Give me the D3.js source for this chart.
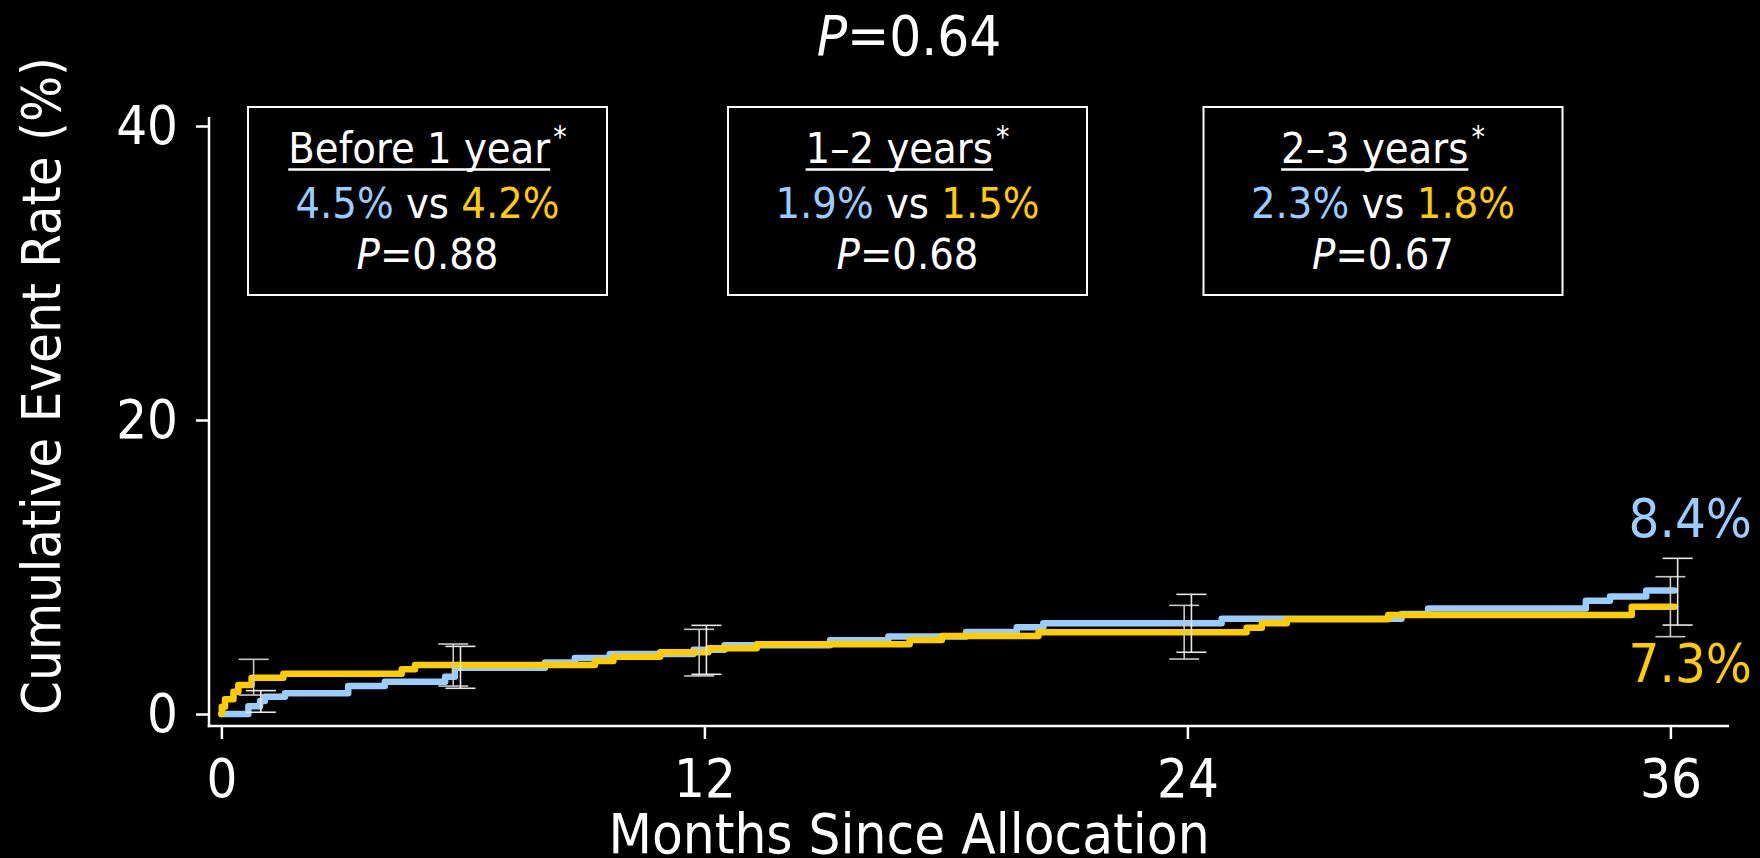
<!DOCTYPE html>
<html>
<head>
<meta charset="utf-8">
<script src="https://cdn.jsdelivr.net/npm/d3@7"></script>
<style>
  html, body { margin: 0; padding: 0; background: #000; }
  svg { display: block; }
  text { font-family: "DejaVu Sans Condensed", "DejaVu Sans", sans-serif; font-stretch: condensed; fill: #fff; }
</style>
</head>
<body>
<svg id="chart" width="1760" height="858"></svg>
<script>
// ---- data ----
// Kaplan-Meier style cumulative event curves: step start month and cumulative rate (%)
const blueMonths   = [0, 0.67, 0.96, 1.08, 1.58, 3.15, 4.06, 5.56, 5.8, 8.04, 8.78, 9.65, 11.73, 12.5, 15.12, 16.57, 18.5, 19.76, 20.42, 24.85, 29.32, 29.98, 33.9, 34.5, 35.4, 36.1];
const blueRates    = [0, 0.52, 0.88, 1.18, 1.41, 1.9, 2.2, 2.54, 3.15, 3.5, 3.81, 4.08, 4.37, 4.67, 5.01, 5.28, 5.58, 5.9, 6.17, 6.48, 6.8, 7.17, 7.7, 8.0, 8.4, 8.4];
const yellowMonths = [0, 0.01, 0.09, 0.3, 0.42, 0.75, 1.54, 4.48, 4.81, 9.28, 9.74, 10.9, 12.1, 13.3, 17.1, 17.9, 20.3, 25.47, 25.85, 26.47, 28.99, 35.04, 36.1];
const yellowRates  = [0, 0.5, 1.0, 1.52, 1.97, 2.47, 2.74, 3.04, 3.33, 3.6, 3.9, 4.2, 4.47, 4.74, 5.03, 5.3, 5.56, 5.87, 6.17, 6.44, 6.73, 7.3, 7.3];

// 95% confidence intervals at landmark times
const blueCiMonths   = [0.98, 5.94, 12.05, 24.1, 36.18];
const blueCiLow      = [0.12, 1.75, 2.7, 4.2, 6.05];
const blueCiHigh     = [1.59, 4.6, 6.03, 8.14, 10.59];
const yellowCiMonths = [0.8, 5.76, 11.87, 23.92, 36.0];
const yellowCiLow    = [1.29, 1.9, 2.59, 3.74, 5.26];
const yellowCiHigh   = [3.72, 4.76, 5.76, 7.39, 9.34];

// final rates labelled at the right end
const blueFinal = 8.4;
const yellowFinal = 7.3;

// landmark analysis panels
const periodNames  = ["Before 1 year", "1\u20132 years", "2\u20133 years"];
const periodBlue   = ["4.5%", "1.9%", "2.3%"];
const periodYellow = ["4.2%", "1.5%", "1.8%"];
const periodP      = ["0.88", "0.68", "0.67"];
const overallP     = "0.64";

// axes
const xTicks = [0, 12, 24, 36];
const yTicks = [0, 20, 40];
const xTitle = "Months Since Allocation";
const yTitle = "Cumulative Event Rate (%)";

// ---- layout ----
const BLUE = "#99CCFF";
const YELLOW = "#FFCC00";
const svg = d3.select("#chart");

const x = d3.scaleLinear().domain([0, 36]).range([221.4, 1670.4]);
const y = d3.scaleLinear().domain([0, 40]).range([714, 126]);

const axisX = 209;     // vertical axis position
const axisY = 726;     // horizontal axis position
const axisRight = 1729;

// axis lines
svg.append("line")
  .attr("x1", axisX).attr("x2", axisX)
  .attr("y1", y(40) - 9).attr("y2", axisY + 1.2)
  .attr("stroke", "#fff").attr("stroke-width", 2.5);
svg.append("line")
  .attr("x1", axisX - 1.2).attr("x2", axisRight)
  .attr("y1", axisY).attr("y2", axisY)
  .attr("stroke", "#fff").attr("stroke-width", 2.5);

// x axis
const gx = svg.append("g")
  .attr("transform", `translate(0,${axisY})`)
  .call(d3.axisBottom(x).tickValues(xTicks).tickSize(13).tickPadding(20).tickFormat(d3.format("d")));
gx.select(".domain").remove();
gx.selectAll(".tick line").attr("stroke", "#fff").attr("stroke-width", 2.5);
gx.selectAll(".tick text").attr("fill", "#fff").style("font-size", "54px");

// y axis
const gy = svg.append("g")
  .attr("transform", `translate(${axisX},0)`)
  .call(d3.axisLeft(y).tickValues(yTicks).tickSize(13).tickPadding(18).tickFormat(d3.format("d")));
gy.select(".domain").remove();
gy.selectAll(".tick line").attr("stroke", "#fff").attr("stroke-width", 2.5);
gy.selectAll(".tick text").attr("fill", "#fff").style("font-size", "54px");

// axis titles
svg.append("text")
  .attr("x", 909).attr("y", 853)
  .attr("text-anchor", "middle")
  .style("font-size", "56px")
  .text(xTitle);
svg.append("text")
  .attr("transform", "translate(60,386) rotate(-90)")
  .attr("text-anchor", "middle")
  .style("font-size", "54px")
  .text(yTitle);

// overall P value
const pTitle = svg.append("text")
  .attr("x", 909).attr("y", 55)
  .attr("text-anchor", "middle")
  .style("font-size", "56px");
pTitle.append("tspan").style("font-style", "italic").text("P");
pTitle.append("tspan").text("=" + overallP);

// curves
const line = d3.line()
  .x(d => x(d[0]))
  .y(d => y(d[1]))
  .curve(d3.curveStepAfter);

const blueData = blueMonths.map((m, i) => [m, blueRates[i]]);
const yellowData = yellowMonths.map((m, i) => [m, yellowRates[i]]);

svg.append("path")
  .datum(blueData)
  .attr("d", line)
  .attr("fill", "none")
  .attr("stroke", BLUE)
  .attr("stroke-width", 6.5)
  .attr("stroke-linecap", "round")
  .attr("stroke-linejoin", "round");
svg.append("path")
  .datum(yellowData)
  .attr("d", line)
  .attr("fill", "none")
  .attr("stroke", YELLOW)
  .attr("stroke-width", 6.5)
  .attr("stroke-linecap", "round")
  .attr("stroke-linejoin", "round");

// confidence interval bars
function drawCi(months, lo, hi, color) {
  const g = svg.append("g").attr("stroke", color).attr("stroke-width", 1.6).attr("fill", "none");
  const capHalf = 15;
  months.forEach((m, i) => {
    const cx = x(m);
    g.append("line").attr("x1", cx).attr("x2", cx).attr("y1", y(hi[i])).attr("y2", y(lo[i]));
    g.append("line").attr("x1", cx - capHalf).attr("x2", cx + capHalf).attr("y1", y(hi[i])).attr("y2", y(hi[i]));
    g.append("line").attr("x1", cx - capHalf).attr("x2", cx + capHalf).attr("y1", y(lo[i])).attr("y2", y(lo[i]));
  });
}
drawCi(yellowCiMonths, yellowCiLow, yellowCiHigh, "#c8c8c8");
drawCi(blueCiMonths, blueCiLow, blueCiHigh, "#e8e8e8");

// final rate labels
svg.append("text")
  .attr("x", 1752).attr("y", 537)
  .attr("text-anchor", "end")
  .attr("fill", BLUE).style("fill", BLUE)
  .style("font-size", "54px")
  .text(blueFinal.toFixed(1) + "%");
svg.append("text")
  .attr("x", 1752).attr("y", 682)
  .attr("text-anchor", "end")
  .style("fill", YELLOW)
  .style("font-size", "54px")
  .text(yellowFinal.toFixed(1) + "%");

// landmark panels
const boxCenters = [427.5, 907.5, 1383];
const boxW = 359, boxTop = 107, boxH = 188;

periodNames.forEach((name, i) => {
  const cx = boxCenters[i];
  const g = svg.append("g");
  g.append("rect")
    .attr("x", cx - boxW / 2).attr("y", boxTop)
    .attr("width", boxW).attr("height", boxH)
    .attr("fill", "#000").attr("stroke", "#fff").attr("stroke-width", 2);

  // heading with underline and superscript asterisk
  const head = g.append("text")
    .attr("y", boxTop + 56)
    .style("font-size", "43px")
    .text(name);
  const star = g.append("text")
    .attr("y", boxTop + 40)
    .style("font-size", "30px")
    .text("*");
  const hw = head.node().getComputedTextLength();
  const sw = star.node().getComputedTextLength();
  const gap = 3;
  const x0 = cx - (hw + gap + sw) / 2;
  head.attr("x", x0);
  star.attr("x", x0 + hw + gap);
  g.append("line")
    .attr("x1", x0).attr("x2", x0 + hw)
    .attr("y1", boxTop + 62.5).attr("y2", boxTop + 62.5)
    .attr("stroke", "#fff").attr("stroke-width", 2.5);

  // rates line
  const rates = g.append("text")
    .attr("x", cx).attr("y", boxTop + 111)
    .attr("text-anchor", "middle")
    .style("font-size", "43px");
  rates.append("tspan").style("fill", BLUE).text(periodBlue[i]);
  rates.append("tspan").text(" vs ");
  rates.append("tspan").style("fill", YELLOW).text(periodYellow[i]);

  // P value line
  const pv = g.append("text")
    .attr("x", cx).attr("y", boxTop + 162)
    .attr("text-anchor", "middle")
    .style("font-size", "43px");
  pv.append("tspan").style("font-style", "italic").text("P");
  pv.append("tspan").text("=" + periodP[i]);
});
</script>
</body>
</html>
